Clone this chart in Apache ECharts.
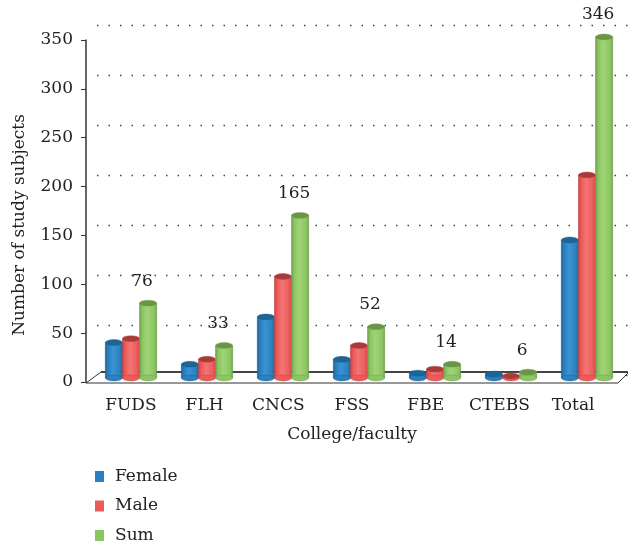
<!DOCTYPE html>
<html><head><meta charset="utf-8">
<script src="https://cdn.jsdelivr.net/npm/echarts@6/dist/echarts.min.js"></script>
<style>html,body{margin:0;padding:0;background:#fff}#c{width:628px;height:544px}</style>
</head><body><div id="c"></div>
<script>
var categories = ['FUDS', 'FLH', 'CNCS', 'FSS', 'FBE', 'CTEBS', 'Total'];
var female = [36, 14, 62, 19, 5, 4, 140];
var male = [40, 19, 103, 33, 9, 2, 206];
var sum = [76, 33, 165, 52, 14, 6, 346];
var seriesNames = ['Female', 'Male', 'Sum'];
var yMin = 0, yMax = 350, yInterval = 50;

var FONT = '"DejaVu Serif", "Liberation Serif", serif';
var FS = 17;
var palettes = [
  {base: '#2a7fbf', light: '#3b93d3', dark: '#1d6299', top: '#1c6597', edge: '#1d5c8c'},
  {base: '#ec5a5a', light: '#f47474', dark: '#c64444', top: '#a93a3a', edge: '#b94343'},
  {base: '#8cc663', light: '#9fd377', dark: '#6f9f4b', top: '#6a9545', edge: '#6d9b49'}
];

function makeRender(idx, withLabel) {
  var p = palettes[idx];
  return function (params, api) {
    var cat = api.value(0), val = api.value(1);
    var top = api.coord([cat, val]);
    var base = api.coord([cat, 0]);
    var band = api.size([1, 0])[0];
    var w = band * 0.225;
    var cx = top[0] + (idx - 1) * w;
    var r = w / 2;
    var sy = 0.34;
    var children = [];
    children.push({
      type: 'rect',
      shape: {x: cx - r, y: top[1], width: w, height: Math.max(0, base[1] - top[1])},
      style: {
        fill: new echarts.graphic.LinearGradient(0, 0, 1, 0, [
          {offset: 0, color: p.dark}, {offset: 0.18, color: p.base},
          {offset: 0.45, color: p.light}, {offset: 0.85, color: p.base},
          {offset: 1, color: p.dark}
        ]),
        stroke: p.edge, lineWidth: 0.6
      }
    });
    children.push({
      type: 'circle', x: cx, y: base[1], scaleY: sy,
      shape: {cx: 0, cy: 0, r: r},
      style: {fill: p.base, stroke: p.edge, lineWidth: 0.6}
    });
    children.push({
      type: 'circle', x: cx, y: top[1], scaleY: sy,
      shape: {cx: 0, cy: 0, r: r},
      style: {fill: p.top, stroke: p.edge, lineWidth: 0.6}
    });
    if (withLabel) {
      children.push({
        type: 'text', x: cx - 6, y: top[1] - 22,
        style: {text: String(val), font: FS + 'px ' + FONT, fill: '#222', align: 'center', verticalAlign: 'middle'}
      });
    }
    return {type: 'group', children: children};
  };
}

var seriesData = [female, male, sum];
var series = seriesData.map(function (arr, i) {
  return {
    type: 'custom', name: seriesNames[i], xAxisIndex: 1, yAxisIndex: 1,
    itemStyle: {color: palettes[i].base},
    renderItem: makeRender(i, i === 2),
    encode: {x: 0, y: 1},
    data: arr.map(function (v, k) { return [k, v]; }),
    z: 3
  };
});

var chart = echarts.init(document.getElementById('c'), null, {renderer: 'canvas'});
chart.setOption({
  animation: false,
  backgroundColor: '#fff',
  grid: [
    {left: 94, right: 18, top: 40, bottom: 162},   // visible axes
    {left: 93, right: 3, top: 33, bottom: 166},    // cylinders
    {left: 97, right: 0, top: 25, bottom: 169}     // back wall grid
  ],
  xAxis: [
    {type: 'category', gridIndex: 0, data: categories,
     axisLine: {show: false}, axisTick: {show: false},
     axisLabel: {interval: 0, margin: 15, fontSize: FS, fontFamily: FONT, color: '#222'},
     name: 'College/faculty', nameLocation: 'middle', nameGap: 44,
     nameTextStyle: {fontSize: FS, fontFamily: FONT, color: '#222'}},
    {type: 'category', gridIndex: 1, data: categories, show: false},
    {type: 'value', gridIndex: 2, show: false, min: 0, max: 1}
  ],
  yAxis: [
    {type: 'value', gridIndex: 0, min: yMin, max: yMax, interval: yInterval, offset: 8,
     axisLine: {show: true, lineStyle: {color: '#333', width: 1.5}},
     axisTick: {show: true, length: 5, lineStyle: {color: '#333'}},
     axisLabel: {margin: 13, fontSize: FS, fontFamily: FONT, color: '#222'},
     splitLine: {show: false},
     name: 'Number of study subjects', nameLocation: 'middle', nameGap: 58,
     nameTextStyle: {fontSize: FS, fontFamily: FONT, color: '#222', padding: [0, 28, 0, 0]}},
    {type: 'value', gridIndex: 1, min: yMin, max: yMax, interval: yInterval, show: false, splitLine: {show: false}},
    {type: 'value', gridIndex: 2, min: yMin, max: yMax, interval: yInterval,
     axisLine: {show: false}, axisTick: {show: false}, axisLabel: {show: false},
     splitLine: {show: true, lineStyle: {type: [1.5, 10], color: '#444', width: 1.4}}}
  ],
  legend: {
    orient: 'vertical', left: 95, top: 468, padding: 0, itemWidth: 9, itemHeight: 11, itemGap: 12.5,
    icon: 'rect', data: seriesNames,
    textStyle: {fontSize: FS, fontFamily: FONT, color: '#222', padding: [0, 0, 0, 6]}
  },
  graphic: [
    {type: 'polygon', z: 1, silent: true,
     shape: {points: [[86, 383], [618, 383], [629, 372], [101, 372]]},
     style: {fill: '#fff', stroke: '#333', lineWidth: 1}},
    {type: 'line', z: 1, silent: true,
     shape: {x1: 101, y1: 372, x2: 628, y2: 372},
     style: {stroke: '#444', lineWidth: 2}}
  ],
  series: series
});
</script>
</body></html>
